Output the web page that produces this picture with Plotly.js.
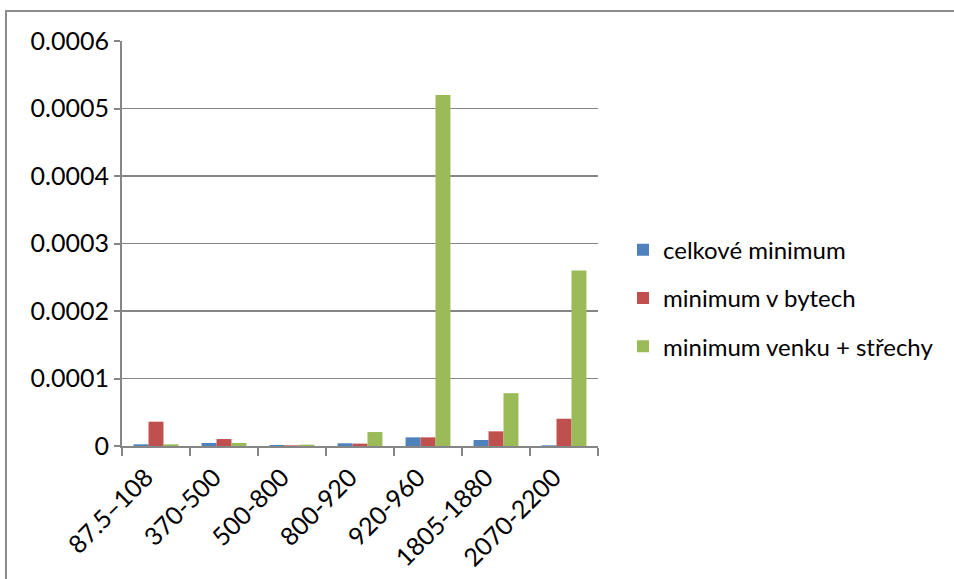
<!DOCTYPE html>
<html>
<head>
<meta charset="utf-8">
<script src="https://cdn.plot.ly/plotly-3.0.1.min.js"></script>
<style>
  html, body { margin: 0; padding: 0; background: #fff; }
  #chart { width: 954px; height: 579px; }
  #frame { position: absolute; left: 5px; top: 10px; width: 960px; height: 600px;
           border-top: 2px solid #8c8c8c; border-left: 2px solid #8c8c8c; pointer-events: none; }
</style>
</head>
<body>
<div id="chart"></div>
<div id="frame"></div>
<script>
// Frequency bands
const bands = ["87.5–108", "370-500", "500-800", "800-920", "920-960", "1805-1880", "2070-2200"];

// Minimum values per band
const celkoveMinimum = [0.0000025, 0.0000045, 0.0000015, 0.000004, 0.0000128, 0.0000089, 0.000001];
const minimumVBytech = [0.000036, 0.0000103, 0.000001, 0.0000035, 0.0000128, 0.0000217, 0.0000404];
const minimumVenku = [0.0000025, 0.0000045, 0.000002, 0.0000207, 0.00052, 0.0000783, 0.00026];

const seriesNames = ["celkové minimum", "minimum v bytech", "minimum venku + střechy"];

const yTickVals = [0, 0.0001, 0.0002, 0.0003, 0.0004, 0.0005, 0.0006];
const yTickText = ["0", "0.0001", "0.0002", "0.0003", "0.0004", "0.0005", "0.0006"];

const colors = ["#4F81BD", "#C0504D", "#9BBB59"];
const font = "Lato, 'Open Sans', sans-serif";

const traces = [celkoveMinimum, minimumVBytech, minimumVenku].map((vals, i) => ({
  type: "bar",
  name: seriesNames[i],
  legendgroup: "g" + i,
  x: bands,
  y: vals,
  marker: { color: colors[i], line: { width: 0 } },
  hoverinfo: "x+y+name"
}));

const layout = {
  width: 954,
  height: 579,
  margin: { l: 122, r: 356, t: 41, b: 133 },
  paper_bgcolor: "#fff",
  plot_bgcolor: "#fff",
  barmode: "group",
  bargap: 0.34,
  bargroupgap: 0,
  showlegend: true,
  legend: {
    x: 1.0525, xanchor: "left",
    y: 0.365, yanchor: "middle",
    font: { family: font, size: 24, color: "#000" },
    tracegroupgap: 14,
    itemwidth: 30,
    traceorder: "grouped"
  },
  xaxis: {
    type: "category",
    automargin: false,
    showgrid: false,
    showline: true,
    linecolor: "#868686",
    linewidth: 2,
    ticks: "outside",
    tickson: "boundaries",
    ticklen: 8,
    tickwidth: 2,
    tickcolor: "#868686",
    tickangle: -45,
    ticklabelshift: -10,
    ticklabelstandoff: 5,
    tickfont: { family: font, size: 25, color: "#000" },
    fixedrange: true
  },
  yaxis: {
    range: [0, 0.0006],
    automargin: false,
    tickvals: yTickVals,
    ticktext: yTickText,
    showgrid: true,
    gridcolor: "#868686",
    gridwidth: 1.5,
    zeroline: false,
    showline: true,
    linecolor: "#868686",
    linewidth: 2,
    ticks: "outside",
    ticklen: 6,
    tickwidth: 2,
    tickcolor: "#868686",
    tickfont: { family: font, size: 25, color: "#000" },
    fixedrange: true
  }
};

Plotly.newPlot("chart", traces, layout, { displayModeBar: false, staticPlot: true });
</script>
</body>
</html>
